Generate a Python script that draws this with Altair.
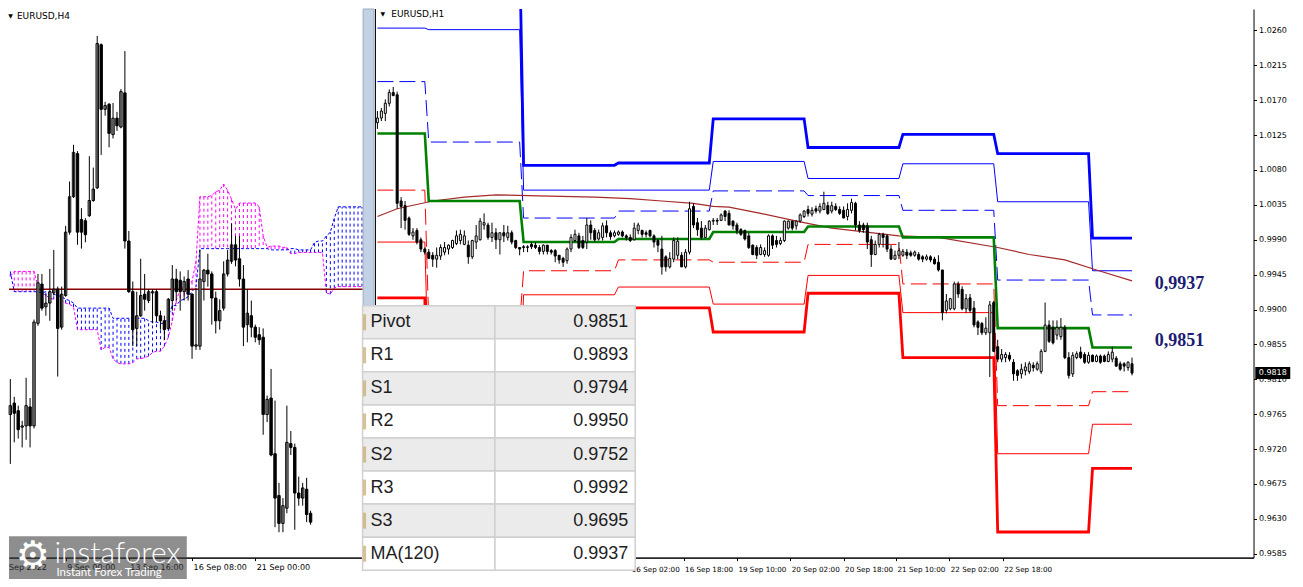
import altair as alt
import pandas as pd

# ------------------------------------------------------------------ data
# Left panel: EURUSD H4 candles (bar index 0..76)
H4_OPEN = [0.9901, 0.9910, 0.9904, 0.9891, 0.9892, 0.9907, 0.9892, 0.9973, 1.0004, 0.9986,
           0.9989, 0.9997, 1.0000, 0.9970, 0.9995, 1.0045, 1.0073, 1.0107, 1.0055, 1.0054,
           1.0058, 1.0070, 1.0080, 1.0193, 1.0142, 1.0146, 1.0122, 1.0135, 1.0128, 1.0155,
           1.0038, 0.9998, 0.9969, 0.9979, 0.9996, 0.9991, 0.9997, 0.9998, 0.9979, 0.9975,
           0.9969, 0.9991, 1.0008, 1.0007, 0.9998, 1.0008, 0.9996, 0.9955, 0.9955, 1.0006,
           1.0015, 1.0012, 0.9993, 0.9975, 0.9985, 1.0012, 1.0022, 1.0035, 1.0024, 1.0008,
           0.9972, 0.9979, 0.9970, 0.9964, 0.9962, 0.9901, 0.9914, 0.9870, 0.9837, 0.9815,
           0.9827, 0.9878, 0.9875, 0.9839, 0.9835, 0.9842, 0.9823]
H4_HIGH = [0.9929, 0.9915, 0.9908, 0.9896, 0.9930, 0.9914, 0.9976, 1.0012, 1.0012, 0.9996,
           1.0016, 1.0031, 1.0002, 1.0002, 1.0050, 1.0085, 1.0114, 1.0109, 1.0064, 1.0056,
           1.0105, 1.0096, 1.0200, 1.0194, 1.0148, 1.0147, 1.0147, 1.0140, 1.0158, 1.0188,
           1.0046, 1.0006, 0.9998, 1.0024, 1.0012, 1.0000, 1.0000, 1.0000, 0.9983, 0.9979,
           0.9993, 1.0019, 1.0016, 1.0014, 1.0010, 1.0015, 0.9997, 1.0001, 1.0031, 1.0016,
           1.0028, 1.0014, 0.9998, 0.9992, 1.0022, 1.0031, 1.0052, 1.0042, 1.0042, 1.0019,
           1.0000, 0.9991, 0.9972, 0.9970, 0.9969, 0.9916, 0.9937, 0.9912, 0.9847, 0.9835,
           0.9908, 0.9888, 0.9878, 0.9852, 0.9847, 0.9851, 0.9825]
H4_LOW = [0.9862, 0.9879, 0.9882, 0.9875, 0.9881, 0.9875, 0.9890, 0.9971, 0.9983, 0.9979,
          0.9975, 0.9995, 0.9931, 0.9968, 0.9994, 1.0043, 1.0072, 1.0035, 1.0032, 1.0037,
          1.0057, 1.0069, 1.0079, 1.0106, 1.0137, 1.0112, 1.0119, 1.0125, 1.0127, 1.0032,
          0.9997, 0.9955, 0.9955, 0.9978, 0.9983, 0.9989, 0.9973, 0.9974, 0.9968, 0.9960,
          0.9968, 0.9983, 0.9991, 0.9983, 0.9991, 0.9991, 0.9945, 0.9952, 0.9952, 0.9991,
          1.0002, 0.9972, 0.9965, 0.9968, 0.9983, 1.0010, 1.0020, 1.0018, 1.0002, 0.9955,
          0.9958, 0.9962, 0.9958, 0.9956, 0.9885, 0.9895, 0.9868, 0.9812, 0.9808, 0.9808,
          0.9823, 0.9869, 0.9810, 0.9829, 0.9829, 0.9816, 0.9814]
H4_CLOSE = [0.9908, 0.9902, 0.9889, 0.9892, 0.9908, 0.9892, 0.9974, 1.0005, 0.9985, 0.9989,
            0.9998, 1.0000, 0.9969, 0.9996, 1.0045, 1.0073, 1.0108, 1.0045, 1.0045, 1.0043,
            1.0070, 1.0079, 1.0194, 1.0142, 1.0145, 1.0123, 1.0135, 1.0129, 1.0156, 1.0038,
            0.9998, 0.9968, 0.9979, 0.9995, 0.9992, 0.9998, 0.9998, 0.9979, 0.9975, 0.9968,
            0.9992, 1.0008, 0.9998, 0.9998, 1.0006, 0.9996, 0.9955, 0.9956, 1.0008, 1.0015,
            1.0012, 0.9993, 0.9975, 0.9983, 1.0012, 1.0023, 1.0035, 1.0023, 1.0008, 0.9970,
            0.9981, 0.9970, 0.9962, 0.9960, 0.9901, 0.9913, 0.9869, 0.9835, 0.9815, 0.9829,
            0.9879, 0.9875, 0.9839, 0.9835, 0.9843, 0.9822, 0.9816]

# Left panel: Ichimoku cloud spans (bar index 0..89, shifted forward)
SPAN_A = [1.0010, 1.0014, 1.0014, 1.0014, 1.0014, 1.0014, 1.0014, 1.0002, 0.9997, 0.9995,
          0.9993, 0.9992, 0.9992, 0.9991, 0.9989, 0.9988, 0.9986, 0.9968, 0.9968, 0.9968,
          0.9968, 0.9968, 0.9968, 0.9952, 0.9954, 0.9954, 0.9945, 0.9942, 0.9941, 0.9941,
          0.9941, 0.9942, 0.9945, 0.9945, 0.9946, 0.9947, 0.9950, 0.9951, 0.9951, 0.9955,
          0.9962, 0.9975, 0.9991, 1.0000, 1.0002, 1.0004, 1.0006, 1.0022, 1.0073, 1.0073,
          1.0073, 1.0074, 1.0077, 1.0078, 1.0083, 1.0078, 1.0071, 1.0063, 1.0068, 1.0068,
          1.0068, 1.0068, 1.0068, 1.0065, 1.0042, 1.0033, 1.0034, 1.0034, 1.0034, 1.0033,
          1.0033, 1.0028, 1.0028, 1.0029, 1.0029, 1.0029, 1.0029, 1.0029, 1.0029, 1.0029,
          0.9997, 0.9996, 1.0001, 1.0002, 1.0002, 1.0002, 1.0002, 1.0002, 1.0002, 1.0002]
SPAN_B = [1.0014, 0.9998, 0.9998, 0.9998, 0.9998, 0.9998, 0.9998, 0.9998, 0.9997, 0.9998,
          0.9997, 0.9996, 0.9995, 0.9994, 0.9992, 0.9991, 0.9989, 0.9985, 0.9985, 0.9985,
          0.9985, 0.9985, 0.9985, 0.9985, 0.9985, 0.9985, 0.9977, 0.9977, 0.9977, 0.9977,
          0.9977, 0.9977, 0.9977, 0.9977, 0.9977, 0.9975, 0.9974, 0.9974, 0.9973, 0.9973,
          0.9979, 0.9987, 0.9987, 0.9991, 0.9992, 0.9994, 0.9998, 1.0002, 1.0032, 1.0032,
          1.0032, 1.0032, 1.0032, 1.0032, 1.0032, 1.0032, 1.0032, 1.0032, 1.0032, 1.0032,
          1.0032, 1.0032, 1.0032, 1.0032, 1.0032, 1.0032, 1.0031, 1.0031, 1.0031, 1.0031,
          1.0031, 1.0032, 1.0032, 1.0031, 1.0031, 1.0031, 1.0031, 1.0037, 1.0038, 1.0038,
          1.0042, 1.0045, 1.0056, 1.0065, 1.0065, 1.0065, 1.0065, 1.0065, 1.0065, 1.0065]
PARITY = [1.0000]

L_TICKS = [14, 30, 46, 62]
L_TICK_LABELS = ["9 Sep 00:00", "13 Sep 16:00", "16 Sep 08:00", "21 Sep 00:00"]
L_FIRST_LABEL = ["Sep 2022"]

# Right panel: EURUSD H1 candles (bar index 0..191)
H1_OPEN = [1.0141, 1.0147, 1.0153, 1.0166, 1.0180, 1.0177, 1.0040, 1.0034, 1.0018, 0.9995,
           1.0002, 0.9990, 0.9978, 0.9974, 0.9970, 0.9965, 0.9969, 0.9974, 0.9978, 0.9980,
           0.9985, 0.9989, 0.9984, 0.9983, 0.9968, 0.9987, 0.9990, 1.0009, 1.0009, 0.9993,
           0.9999, 0.9990, 0.9999, 0.9993, 0.9999, 0.9989, 0.9980, 0.9981, 0.9980, 0.9984,
           0.9983, 0.9980, 0.9975, 0.9983, 0.9976, 0.9976, 0.9970, 0.9966, 0.9963, 0.9978,
           0.9989, 0.9995, 0.9989, 0.9987, 1.0009, 1.0002, 0.9991, 0.9993, 1.0008, 0.9999,
           0.9995, 0.9997, 1.0000, 0.9995, 0.9993, 0.9990, 1.0002, 1.0002, 0.9999, 1.0002,
           0.9995, 0.9989, 0.9978, 0.9968, 0.9955, 0.9965, 0.9970, 0.9970, 0.9955, 0.9974,
           1.0033, 1.0012, 1.0005, 0.9993, 1.0003, 1.0014, 1.0015, 1.0015, 1.0027, 1.0024,
           1.0014, 1.0009, 1.0003, 1.0002, 0.9995, 0.9983, 0.9980, 0.9971, 0.9971, 0.9970,
           0.9995, 0.9989, 0.9985, 0.9989, 1.0005, 1.0014, 1.0008, 1.0014, 1.0020, 1.0029,
           1.0023, 1.0030, 1.0027, 1.0029, 1.0034, 1.0027, 1.0033, 1.0029, 1.0028, 1.0020,
           1.0028, 1.0037, 1.0009, 1.0009, 1.0008, 0.9990, 0.9971, 0.9984, 0.9997, 0.9995,
           0.9978, 0.9965, 0.9970, 0.9970, 0.9974, 0.9973, 0.9970, 0.9971, 0.9968, 0.9965,
           0.9968, 0.9965, 0.9961, 0.9951, 0.9899, 0.9901, 0.9901, 0.9933, 0.9926, 0.9901,
           0.9915, 0.9902, 0.9884, 0.9882, 0.9870, 0.9870, 0.9909, 0.9852, 0.9836, 0.9838,
           0.9841, 0.9832, 0.9821, 0.9817, 0.9821, 0.9820, 0.9828, 0.9823, 0.9820, 0.9846,
           0.9880, 0.9877, 0.9867, 0.9865, 0.9877, 0.9838, 0.9817, 0.9838, 0.9845, 0.9842,
           0.9832, 0.9841, 0.9833, 0.9840, 0.9840, 0.9833, 0.9836, 0.9837, 0.9830, 0.9830,
           0.9825, 0.9830]
H1_HIGH = [1.0156, 1.0160, 1.0171, 1.0184, 1.0187, 1.0181, 1.0045, 1.0040, 1.0020, 1.0005,
           1.0005, 0.9993, 0.9980, 0.9978, 0.9974, 0.9980, 0.9984, 0.9987, 0.9984, 0.9990,
           1.0002, 1.0003, 1.0002, 0.9989, 0.9990, 1.0009, 1.0018, 1.0024, 1.0012, 1.0012,
           1.0005, 0.9999, 1.0009, 1.0008, 1.0002, 0.9990, 0.9980, 0.9983, 0.9983, 0.9987,
           0.9987, 0.9983, 0.9984, 0.9983, 0.9978, 0.9978, 0.9970, 0.9968, 0.9980, 0.9997,
           1.0003, 0.9999, 0.9995, 1.0018, 1.0015, 1.0005, 1.0003, 1.0012, 1.0015, 1.0002,
           1.0002, 1.0002, 1.0002, 0.9997, 0.9997, 1.0012, 1.0012, 1.0003, 1.0002, 1.0003,
           0.9997, 0.9991, 0.9995, 0.9970, 0.9974, 0.9993, 0.9993, 0.9974, 0.9978, 1.0039,
           1.0037, 1.0018, 1.0014, 1.0009, 1.0015, 1.0018, 1.0018, 1.0024, 1.0028, 1.0028,
           1.0015, 1.0012, 1.0005, 1.0003, 0.9999, 0.9984, 0.9983, 0.9984, 0.9980, 0.9997,
           0.9997, 0.9995, 0.9993, 1.0015, 1.0015, 1.0015, 1.0015, 1.0024, 1.0028, 1.0034,
           1.0032, 1.0034, 1.0037, 1.0052, 1.0039, 1.0039, 1.0037, 1.0033, 1.0033, 1.0037,
           1.0043, 1.0039, 1.0014, 1.0012, 1.0012, 0.9995, 0.9989, 0.9999, 0.9999, 0.9997,
           0.9983, 0.9976, 0.9987, 0.9978, 0.9978, 0.9976, 0.9976, 0.9974, 0.9970, 0.9971,
           0.9970, 0.9968, 0.9970, 0.9951, 0.9920, 0.9915, 0.9936, 0.9936, 0.9930, 0.9920,
           0.9920, 0.9911, 0.9886, 0.9884, 0.9890, 0.9911, 0.9911, 0.9861, 0.9849, 0.9845,
           0.9845, 0.9836, 0.9823, 0.9830, 0.9832, 0.9833, 0.9832, 0.9833, 0.9849, 0.9909,
           0.9886, 0.9886, 0.9886, 0.9889, 0.9880, 0.9845, 0.9845, 0.9846, 0.9852, 0.9845,
           0.9845, 0.9842, 0.9842, 0.9842, 0.9842, 0.9846, 0.9852, 0.9840, 0.9833, 0.9832,
           0.9833, 0.9838]
H1_LOW = [1.0133, 1.0143, 1.0143, 1.0162, 1.0175, 1.0030, 1.0005, 1.0003, 0.9995, 0.9990,
          0.9984, 0.9974, 0.9971, 0.9965, 0.9955, 0.9954, 0.9964, 0.9970, 0.9971, 0.9978,
          0.9983, 0.9984, 0.9983, 0.9959, 0.9965, 0.9978, 0.9989, 1.0003, 0.9990, 0.9987,
          0.9978, 0.9971, 0.9987, 0.9989, 0.9984, 0.9978, 0.9970, 0.9974, 0.9974, 0.9978,
          0.9978, 0.9971, 0.9971, 0.9971, 0.9971, 0.9961, 0.9959, 0.9955, 0.9959, 0.9974,
          0.9987, 0.9978, 0.9978, 0.9978, 0.9990, 0.9987, 0.9989, 0.9989, 0.9993, 0.9990,
          0.9993, 0.9995, 0.9993, 0.9989, 0.9987, 0.9989, 0.9997, 0.9993, 0.9993, 0.9993,
          0.9980, 0.9974, 0.9945, 0.9949, 0.9953, 0.9961, 0.9965, 0.9955, 0.9953, 0.9971,
          1.0005, 0.9995, 0.9990, 0.9993, 1.0002, 1.0009, 1.0009, 1.0014, 1.0014, 1.0009,
          1.0003, 0.9997, 0.9995, 0.9989, 0.9978, 0.9970, 0.9965, 0.9970, 0.9968, 0.9968,
          0.9978, 0.9980, 0.9983, 0.9987, 1.0003, 1.0002, 1.0003, 1.0012, 1.0018, 1.0020,
          1.0020, 1.0024, 1.0024, 1.0028, 1.0022, 1.0024, 1.0027, 1.0022, 1.0018, 1.0015,
          1.0024, 1.0002, 0.9999, 0.9999, 0.9978, 0.9955, 0.9970, 0.9980, 0.9980, 0.9974,
          0.9964, 0.9964, 0.9965, 0.9968, 0.9965, 0.9968, 0.9968, 0.9963, 0.9961, 0.9963,
          0.9961, 0.9958, 0.9949, 0.9886, 0.9895, 0.9899, 0.9899, 0.9915, 0.9899, 0.9896,
          0.9896, 0.9877, 0.9867, 0.9867, 0.9867, 0.9813, 0.9846, 0.9832, 0.9832, 0.9832,
          0.9833, 0.9808, 0.9808, 0.9811, 0.9815, 0.9817, 0.9820, 0.9821, 0.9817, 0.9845,
          0.9857, 0.9855, 0.9861, 0.9861, 0.9836, 0.9811, 0.9813, 0.9836, 0.9836, 0.9830,
          0.9830, 0.9832, 0.9832, 0.9830, 0.9832, 0.9832, 0.9832, 0.9826, 0.9821, 0.9820,
          0.9821, 0.9815]
H1_CLOSE = [1.0147, 1.0156, 1.0166, 1.0180, 1.0176, 1.0037, 1.0033, 1.0015, 0.9997, 1.0000,
            0.9987, 0.9978, 0.9974, 0.9966, 0.9965, 0.9970, 0.9980, 0.9980, 0.9983, 0.9989,
            0.9995, 0.9997, 0.9995, 0.9968, 0.9989, 0.9995, 1.0014, 1.0012, 0.9993, 0.9999,
            0.9990, 0.9999, 0.9995, 0.9999, 0.9987, 0.9980, 0.9978, 0.9980, 0.9981, 0.9981,
            0.9980, 0.9975, 0.9983, 0.9975, 0.9974, 0.9969, 0.9964, 0.9961, 0.9978, 0.9993,
            0.9997, 0.9980, 0.9980, 1.0009, 0.9999, 0.9990, 0.9999, 1.0008, 0.9999, 0.9994,
            0.9999, 1.0000, 0.9995, 0.9993, 0.9989, 1.0005, 1.0009, 0.9997, 0.9997, 0.9995,
            0.9987, 0.9983, 0.9955, 0.9955, 0.9966, 0.9989, 0.9988, 0.9955, 0.9974, 1.0030,
            1.0009, 1.0003, 0.9993, 1.0005, 1.0014, 1.0015, 1.0014, 1.0022, 1.0020, 1.0009,
            1.0008, 1.0002, 0.9997, 0.9991, 0.9980, 0.9971, 0.9970, 0.9980, 0.9976, 0.9995,
            0.9983, 0.9984, 0.9989, 1.0014, 1.0014, 1.0005, 1.0014, 1.0022, 1.0027, 1.0024,
            1.0028, 1.0027, 1.0033, 1.0037, 1.0024, 1.0034, 1.0029, 1.0024, 1.0018, 1.0029,
            1.0038, 1.0009, 1.0002, 1.0003, 0.9987, 0.9971, 0.9984, 0.9997, 0.9993, 0.9978,
            0.9965, 0.9970, 0.9976, 0.9975, 0.9970, 0.9970, 0.9974, 0.9965, 0.9965, 0.9968,
            0.9964, 0.9959, 0.9951, 0.9896, 0.9911, 0.9914, 0.9933, 0.9920, 0.9901, 0.9914,
            0.9899, 0.9880, 0.9877, 0.9870, 0.9876, 0.9906, 0.9846, 0.9836, 0.9842, 0.9842,
            0.9836, 0.9817, 0.9815, 0.9823, 0.9826, 0.9830, 0.9825, 0.9830, 0.9846, 0.9880,
            0.9859, 0.9857, 0.9877, 0.9877, 0.9838, 0.9815, 0.9841, 0.9843, 0.9838, 0.9832,
            0.9841, 0.9833, 0.9840, 0.9832, 0.9833, 0.9842, 0.9845, 0.9827, 0.9823, 0.9827,
            0.9832, 0.9818]

# Daily pivot levels: first and last H1 bar of each day segment
SEG_START = [0, 13, 37, 61, 85, 109, 133, 157, 181]
SEG_END = [12, 36, 60, 84, 108, 132, 156, 180, 191]
R3 = [1.0340, 1.0366, 1.0086, 1.0089, 1.0146, 1.0109, 1.0126, 1.0101, 0.9992]
R2 = [1.0263, 1.0261, 1.0054, 1.0054, 1.0091, 1.0069, 1.0088, 1.0039, 0.9950]
R1 = [1.0194, 1.0116, 1.0018, 1.0027, 1.0053, 1.0047, 1.0028, 0.9938, 0.9893]
PIVOT = [1.0127, 1.0040, 0.9987, 0.9991, 1.0000, 1.0007, 0.9993, 0.9876, 0.9851]
S1 = [1.0054, 0.9882, 0.9950, 0.9964, 0.9961, 0.9984, 0.9933, 0.9776, 0.9794]
S2 = [0.9987, 0.9798, 0.9919, 0.9929, 0.9907, 0.9944, 0.9896, 0.9714, 0.9752]
S3 = [0.9915, 0.9640, 0.9885, 0.9902, 0.9871, 0.9921, 0.9838, 0.9613, 0.9695]

# MA(120) read at a few bars
MA_K = [0, 5, 14, 22, 30, 38, 55, 64, 72, 80, 85, 89, 97, 107, 115, 132, 142, 157, 165, 174, 182, 191]
MA_V = [1.0020, 1.0030, 1.0040, 1.0045, 1.0048, 1.0047, 1.0045, 1.0043, 1.0040, 1.0037, 1.0033,
        1.0032, 1.0024, 1.0013, 1.0005, 0.9995, 0.9993, 0.9980, 0.9971, 0.9964, 0.9951, 0.9937]

R_TICKS = [64, 77.5, 91, 104.5, 118, 131.25, 144.75, 158.25]
R_TICK_LABELS = ["16 Sep 02:00", "16 Sep 18:00", "19 Sep 10:00", "20 Sep 02:00",
                 "20 Sep 18:00", "21 Sep 10:00", "22 Sep 02:00", "22 Sep 18:00"]
Y_TICKS = [0.9585, 0.9630, 0.9675, 0.9720, 0.9765, 0.9810, 0.9855, 0.9900,
           0.9945, 0.9990, 1.0035, 1.0080, 1.0125, 1.0170, 1.0215, 1.0260]
LAST_PRICE = [0.9818]

ANNOT_K = [203]
ANNOT_MA = [0.9937]
ANNOT_MA_TEXT = ["0,9937"]
ANNOT_PIV = [0.9851]
ANNOT_PIV_TEXT = ["0,9851"]

ROW_NAMES = ["Pivot", "R1", "S1", "R2", "S2", "R3", "S3", "MA(120)"]
ROW_VALUES = [0.9851, 0.9893, 0.9794, 0.9950, 0.9752, 0.9992, 0.9695, 0.9937]

TITLE_H4 = ["EURUSD,H4"]
TITLE_H1 = ["EURUSD,H1"]
LOGO_MAIN = ["instaforex"]
LOGO_SUB = ["Instant Forex Trading"]

# ------------------------------------------------------------------ layout
SX = 1287 / 1303
SY = 571 / 587
PW = 1260 * SX
PH = 564 * SY


def ix(v):
    return v * SX


def iy(v):
    return v * SY


R_K_DOMAIN = [-93.25, 221.75]
R_P_DOMAIN = [0.957998, 1.028763]
L_I_DOMAIN = [-0.3325, 314.6675]
L_P_DOMAIN = [0.978798, 1.022123]

BLUE = "#0000ff"
RED = "#ff0000"
GREEN = "#008000"
MAGENTA = "#ff00ff"
MA_COLOR = "#a52a2a"


def sc(dom):
    return alt.Scale(domain=dom, nice=False, zero=False, padding=0)


def RX(f, axis=None):
    return alt.X(f, type="quantitative", scale=sc(R_K_DOMAIN), axis=axis)


def RY(f, axis=None):
    return alt.Y(f, type="quantitative", scale=sc(R_P_DOMAIN), axis=axis)


def LX(f, axis=None):
    return alt.X(f, type="quantitative", scale=sc(L_I_DOMAIN), axis=axis)


def LY(f):
    return alt.Y(f, type="quantitative", scale=sc(L_P_DOMAIN), axis=None)


def label_expr(vals, labels):
    expr = "''"
    for v, l in reversed(list(zip(vals, labels))):
        expr = f"datum.value == {v} ? '{l}' : ({expr})"
    return expr


axis_common = dict(title=None, grid=False, domainColor="black", domainWidth=1,
                   tickColor="black", tickSize=3, labelColor="black",
                   labelFlush=False, labelOverlap=False)

left_axis = alt.Axis(orient="bottom", values=L_TICKS, labelExpr=label_expr(L_TICKS, L_TICK_LABELS),
                     labelFont="DejaVu Sans", labelFontSize=8, labelAlign="left",
                     labelBaseline="top", labelPadding=3, labelOffset=1, **axis_common)
right_x_axis = alt.Axis(orient="bottom", values=R_TICKS, labelExpr=label_expr(R_TICKS, R_TICK_LABELS),
                        labelFont="DejaVu Sans", labelFontSize=7.2, labelAlign="left",
                        labelBaseline="top", labelPadding=5, labelOffset=1, **axis_common)
right_y_axis = alt.Axis(orient="right", values=Y_TICKS, format=".4f", labelFont="DejaVu Sans",
                        labelFontSize=8, labelAlign="left", labelBaseline="middle",
                        labelPadding=2, **axis_common)

one = pd.DataFrame({"d": [0]})

# ------------------------------------------------------------------ left panel (H4)
h4 = pd.DataFrame({"i": list(range(len(H4_OPEN))), "o": H4_OPEN, "h": H4_HIGH,
                   "l": H4_LOW, "c": H4_CLOSE})
cloud = pd.DataFrame({"i": list(range(len(SPAN_A))), "a": SPAN_A, "b": SPAN_B})

hatch = alt.Chart(cloud).mark_rule(strokeWidth=1, strokeDash=[3, 3]).encode(
    x=LX("i"), y=LY("a"), y2="b",
    color=alt.when(alt.datum.a > alt.datum.b).then(alt.value(MAGENTA)).otherwise(alt.value(BLUE)))
span_a = alt.Chart(cloud).mark_line(color=MAGENTA, strokeWidth=1, strokeDash=[3, 2]).encode(
    x=LX("i"), y=LY("a"))
span_b = alt.Chart(cloud).mark_line(color=BLUE, strokeWidth=1, strokeDash=[3, 2]).encode(
    x=LX("i"), y=LY("b"))
parity = alt.Chart(pd.DataFrame({"p": PARITY})).mark_rule(color="#8b0000", strokeWidth=1.5).encode(
    y=LY("p"), x=alt.value(0), x2=alt.value(ix(358)))
l_wick = alt.Chart(h4).mark_rule(color="black", strokeWidth=1).encode(
    x=LX("i", left_axis), y=LY("l"), y2="h")
l_body = alt.Chart(h4).mark_bar(width=2.4, stroke="black", strokeWidth=1).encode(
    x=LX("i"), y=LY("o"), y2="c",
    fill=alt.when(alt.datum.c >= alt.datum.o).then(alt.value("white")).otherwise(alt.value("black")))
first_label = alt.Chart(pd.DataFrame({"t": L_FIRST_LABEL})).mark_text(
    font="DejaVu Sans", fontSize=8, align="left", baseline="top", color="black").encode(
    text="t:N", x=alt.value(0), y=alt.value(PH + 6))

# ------------------------------------------------------------------ separators
strip = alt.Chart(one).mark_rect(fill="#c2d2e4", stroke="#9eadbd", strokeWidth=1).encode(
    x=alt.value(ix(358.5)), x2=alt.value(ix(369.5)), y=alt.value(0), y2=alt.value(iy(305)))
border = alt.Chart(one).mark_rule(color="black", strokeWidth=1).encode(
    x=alt.value(ix(371)), y=alt.value(0), y2=alt.value(PH))

# ------------------------------------------------------------------ right panel (H1)
h1 = pd.DataFrame({"k": list(range(len(H1_OPEN))), "o": H1_OPEN, "h": H1_HIGH,
                   "l": H1_LOW, "c": H1_CLOSE})


def level_df(vals):
    ks, vs = [], []
    for s, e, v in zip(SEG_START, SEG_END, vals):
        ks += [s, e]
        vs += [v, v]
    return pd.DataFrame({"k": ks, "v": vs})


def level_line(vals, color, width, dash=None):
    kw = dict(color=color, strokeWidth=width, clip=True)
    if dash:
        kw["strokeDash"] = dash
    return alt.Chart(level_df(vals)).mark_line(**kw).encode(x=RX("k"), y=RY("v"), order="k:Q")


levels = [
    level_line(R3, BLUE, 2.8),
    level_line(R2, BLUE, 1),
    level_line(R1, BLUE, 1, [16, 6]),
    level_line(S1, RED, 1, [16, 6]),
    level_line(S2, RED, 1),
    level_line(S3, RED, 2.8),
]
ma = alt.Chart(pd.DataFrame({"k": MA_K, "v": MA_V})).mark_line(
    color=MA_COLOR, strokeWidth=1.2, clip=True).encode(x=RX("k"), y=RY("v"))
pivot_line = level_line(PIVOT, GREEN, 2.6)

r_wick = alt.Chart(h1).mark_rule(color="black", strokeWidth=1).encode(
    x=RX("k", right_x_axis), y=RY("l", right_y_axis), y2="h")
r_body = alt.Chart(h1).mark_bar(width=2.0, stroke="black", strokeWidth=1).encode(
    x=RX("k"), y=RY("o"), y2="c",
    fill=alt.when(alt.datum.c >= alt.datum.o).then(alt.value("white")).otherwise(alt.value("black")))

ann_font = dict(font="Liberation Serif", fontWeight="bold", fontSize=18, color="#1c1c72",
                align="center", baseline="middle")
ann_ma = alt.Chart(pd.DataFrame({"k": ANNOT_K, "p": ANNOT_MA, "t": ANNOT_MA_TEXT})).mark_text(
    dy=3, **ann_font).encode(x=RX("k"), y=RY("p"), text="t:N")
ann_piv = alt.Chart(pd.DataFrame({"k": ANNOT_K, "p": ANNOT_PIV, "t": ANNOT_PIV_TEXT})).mark_text(
    dy=-7, **ann_font).encode(x=RX("k"), y=RY("p"), text="t:N")

last_df = pd.DataFrame({"p": LAST_PRICE})
last_box = alt.Chart(last_df).mark_point(
    shape="M-1,-0.343L1,-0.343L1,0.343L-1,0.343Z", size=35 * 35, filled=True,
    fill="black", opacity=1, strokeWidth=0).encode(x=alt.value(ix(1279.5)), y=RY("p"))
last_txt = alt.Chart(last_df).mark_text(
    font="DejaVu Sans", fontSize=8, color="white", align="center", baseline="middle").encode(
    x=alt.value(ix(1279.5)), y=RY("p"), text=alt.Text("p:Q", format=".4f"))

# ------------------------------------------------------------------ titles
title_style = dict(font="DejaVu Sans", fontSize=9, color="black", align="left", baseline="middle")
t_h4 = alt.Chart(pd.DataFrame({"t": TITLE_H4})).mark_text(**title_style).encode(
    text="t:N", x=alt.value(ix(8)), y=alt.value(iy(7)))
t_h1 = alt.Chart(pd.DataFrame({"t": TITLE_H1})).mark_text(**title_style).encode(
    text="t:N", x=alt.value(ix(387)), y=alt.value(iy(5)))
tri = pd.DataFrame({"t": ["\u25BC"]})
tri_h4 = alt.Chart(tri).mark_text(font="DejaVu Sans", fontSize=6, color="black",
                                  align="center", baseline="middle").encode(
    text="t:N", x=alt.value(ix(1.5)), y=alt.value(iy(7)))
tri_h1 = alt.Chart(tri).mark_text(font="DejaVu Sans", fontSize=6, color="black",
                                  align="center", baseline="middle").encode(
    text="t:N", x=alt.value(ix(378.5)), y=alt.value(iy(5)))

# ------------------------------------------------------------------ table
TBL_Y = alt.Scale(domain=list(range(len(ROW_NAMES))), range=[iy(305), iy(577)],
                  paddingInner=0, paddingOuter=0)
rows = pd.DataFrame({"r": list(range(len(ROW_NAMES))), "name": ROW_NAMES, "val": ROW_VALUES})
row_fill = alt.when(alt.datum.r % 2 == 0).then(alt.value("#ebebeb")).otherwise(alt.value("#ffffff"))
tbl_rect_l = alt.Chart(rows).mark_rect(stroke="#d0d0d0", strokeWidth=1.5).encode(
    x=alt.value(ix(358)), x2=alt.value(ix(492)),
    y=alt.Y("r:O", scale=TBL_Y, axis=None), fill=row_fill)
tbl_rect_r = alt.Chart(rows).mark_rect(stroke="#d0d0d0", strokeWidth=1.5).encode(
    x=alt.value(ix(492)), x2=alt.value(ix(634)),
    y=alt.Y("r:O", scale=TBL_Y, axis=None), fill=row_fill)
tbl_font = "Liberation Sans Narrow, Arial Narrow, Liberation Sans"
tbl_names = alt.Chart(rows).mark_text(font=tbl_font, fontSize=18, color="#1e1e1e",
                                      align="left", baseline="middle").encode(
    x=alt.value(ix(366)), y=alt.Y("r:O", scale=TBL_Y, axis=None), text="name:N")
tbl_vals = alt.Chart(rows).mark_text(font=tbl_font, fontSize=18, color="#1e1e1e",
                                     align="right", baseline="middle").encode(
    x=alt.value(ix(627)), y=alt.Y("r:O", scale=TBL_Y, axis=None),
    text=alt.Text("val:Q", format=".4f"))
tbl_icons = alt.Chart(rows).mark_tick(orient="vertical", thickness=3, size=16,
                                      color="#c9a864").encode(
    x=alt.value(ix(360)), y=alt.Y("r:O", scale=TBL_Y, axis=None))

# ------------------------------------------------------------------ logo
logo_rect = alt.Chart(one).mark_rect(color="#3c3c3c", opacity=0.58).encode(
    x=alt.value(0), x2=alt.value(ix(180)), y=alt.value(iy(542)), y2=alt.value(iy(586)))
logo_gear = alt.Chart(pd.DataFrame({"t": ["\u2699"]})).mark_text(
    font="DejaVu Sans", fontSize=38, color="white", align="center", baseline="middle").encode(
    text="t:N", x=alt.value(ix(24)), y=alt.value(iy(563)))
logo_main = alt.Chart(pd.DataFrame({"t": LOGO_MAIN})).mark_text(
    font="Lato", fontWeight=300, fontSize=30, color="white", align="left",
    baseline="alphabetic").encode(text="t:N", x=alt.value(ix(46)), y=alt.value(iy(570)))
logo_sub = alt.Chart(pd.DataFrame({"t": LOGO_SUB})).mark_text(
    font="Lato", fontSize=11.5, color="white", align="left", baseline="alphabetic").encode(
    text="t:N", x=alt.value(ix(48)), y=alt.value(iy(583)))

layers = [hatch, span_a, span_b, parity, l_body, l_wick, first_label,
          strip, border] + levels + [ma, pivot_line, r_wick, r_body, ann_ma, ann_piv,
                                     last_box, last_txt, t_h4, t_h1, tri_h4, tri_h1,
                                     tbl_rect_l, tbl_rect_r, tbl_icons, tbl_names, tbl_vals,
                                     logo_rect, logo_gear, logo_main, logo_sub]

chart = alt.layer(*layers).resolve_scale(x="independent", y="independent").properties(
    width=PW, height=PH, background="white",
    padding={"left": 0, "top": 0, "right": 0, "bottom": 0},
).configure_view(stroke=None)

chart.save("out.html", embed_options={"renderer": "svg", "actions": False})
